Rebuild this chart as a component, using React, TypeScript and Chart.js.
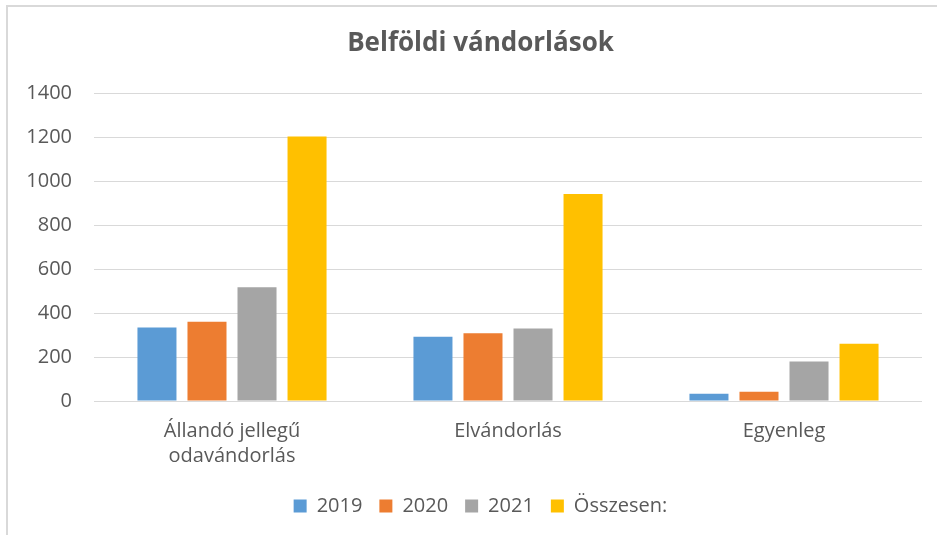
import React, { useEffect, useRef } from "react";
import { Chart, registerables } from "chart.js";

Chart.register(...registerables);

const categories: (string | string[])[] = [["Állandó jellegű", "odavándorlás"], "Elvándorlás", "Egyenleg"];
const seriesNames = ["2019", "2020", "2021", "Összesen:"];
const values2019 = [334, 292, 33];
const values2020 = [361, 308, 42];
const values2021 = [517, 330, 180];
const valuesTotal = [1203, 941, 260];
const colors = ["#5b9bd5", "#ed7d31", "#a5a5a5", "#ffc000"];
const yTicks = [0, 200, 400, 600, 800, 1000, 1200, 1400];

const FONT = "'Open Sans', sans-serif";
const TEXT = "#595959";

export default function App() {
  const ref = useRef<HTMLCanvasElement | null>(null);
  useEffect(() => {
    if (!ref.current) return;
    const series = [values2019, values2020, values2021, valuesTotal];
    const chart = new Chart(ref.current, {
      type: "bar",
      data: {
        labels: categories,
        datasets: series.map((d, i) => ({
          label: seriesNames[i],
          data: d,
          backgroundColor: colors[i],
          borderWidth: 0,
          categoryPercentage: 0.725,
          barPercentage: 0.78,
          yAxisID: "y",
        })),
      },
      options: {
        animation: false,
        responsive: false,
        maintainAspectRatio: false,
        layout: { padding: { left: 24, right: 0, top: 0, bottom: 9 } },
        plugins: {
          title: {
            display: true,
            text: "Belföldi vándorlások",
            color: TEXT,
            font: { family: FONT, size: 26, weight: "bold" },
            padding: { top: 28, bottom: 34 },
          },
          legend: {
            position: "bottom",
            labels: {
              color: TEXT,
              font: { family: FONT, size: 20 },
              boxWidth: 13,
              boxHeight: 13,
              padding: 17,
            },
          },
          tooltip: { enabled: false },
        },
        scales: {
          x: {
            grid: { display: false },
            border: { display: false },
            ticks: { color: TEXT, font: { family: FONT, size: 20, lineHeight: 1.25 }, padding: 10, maxRotation: 0 },
          },
          y: {
            position: "left",
            min: 0,
            max: 1400,
            afterBuildTicks: (axis: any) => {
              axis.ticks = yTicks.map((v) => ({ value: v }));
            },
            afterFit: (axis: any) => {
              axis.width = 70;
            },
            grid: { color: "#d9d9d9", lineWidth: 1, drawTicks: false },
            border: { display: false },
            ticks: {
              color: TEXT,
              font: { family: FONT, size: 20 },
              padding: 22,
              callback: (v: any) => String(v),
            },
          },
          yRight: {
            position: "right",
            display: true,
            min: 0,
            max: 1400,
            grid: { display: false, drawTicks: false },
            border: { display: false },
            ticks: { display: false },
            afterFit: (axis: any) => {
              axis.width = 15;
            },
          },
        },
      },
    });
    return () => chart.destroy();
  }, []);
  return (
    <div style={{ position: "fixed", left: 0, top: 0, width: 937, height: 535, background: "#fff" }}>
      <div style={{ position: "absolute", left: 6, top: 5, width: 2, height: 530, background: "#d9d9d9" }} />
      <div style={{ position: "absolute", left: 6, top: 5, width: 931, height: 2, background: "#d9d9d9" }} />
      <canvas ref={ref} width={937} height={535} style={{ position: "absolute", left: 0, top: 0 }} />
    </div>
  );
}
